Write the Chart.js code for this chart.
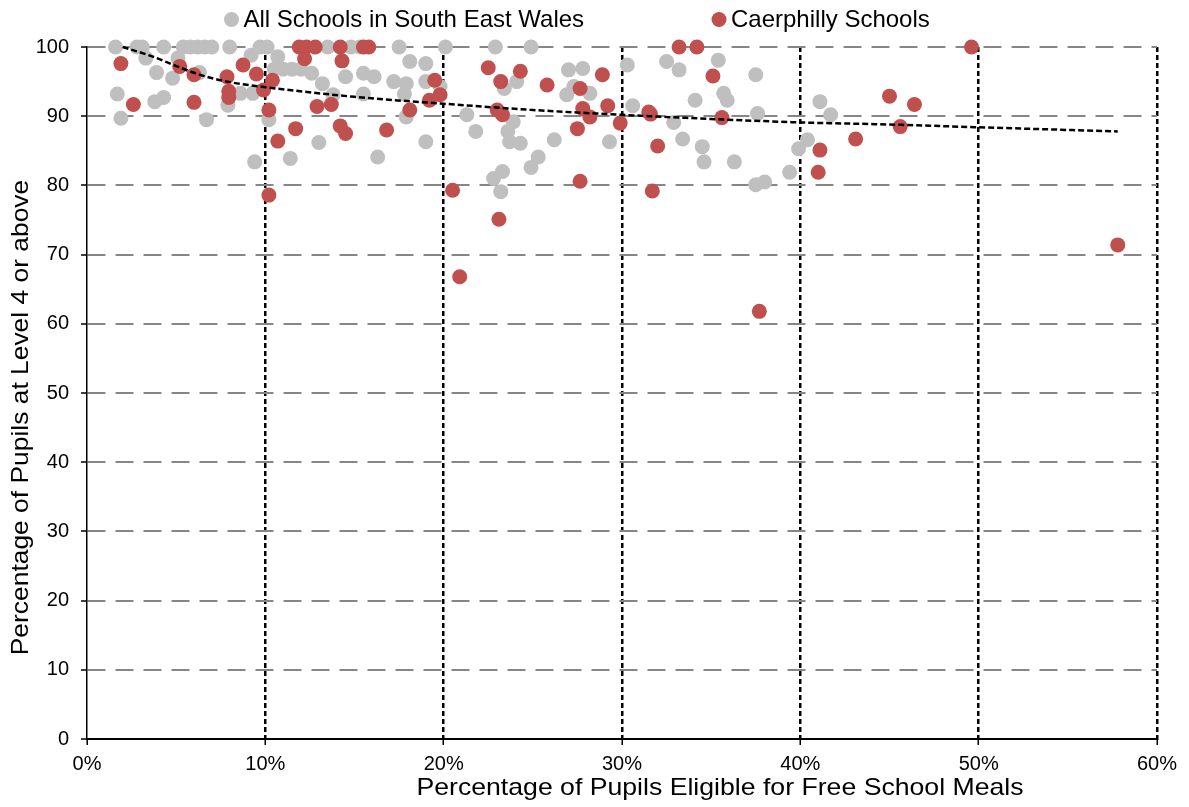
<!DOCTYPE html>
<html>
<head>
<meta charset="utf-8">
<script src="https://cdn.jsdelivr.net/npm/chart.js@4.4.1/dist/chart.umd.min.js"></script>
<style>
html,body{margin:0;padding:0;background:#fff;}
canvas{display:block;}
</style>
</head>
<body>
<canvas id="c" width="1189" height="807"></canvas>
<script>
// ---- Data ----
const xTickLabels = ["0%", "10%", "20%", "30%", "40%", "50%", "60%"];
const yTickValues = [0, 10, 20, 30, 40, 50, 60, 70, 80, 90, 100];

const seriesAllName = "All Schools in South East Wales";
const allX = [1.6, 2.8, 3.1, 3.3, 4.3, 3.9, 4.8, 5.1, 5.4, 5.8, 6.2, 6.6, 7.0, 6.3, 8.0, 9.2, 7.9, 8.6, 9.3, 9.7,
  10.1, 10.7, 10.2, 10.5, 11.0, 11.5, 12.0, 9.4, 11.4, 13.0, 12.6, 13.2, 13.8, 13.5, 14.5, 14.8, 15.3, 15.5, 15.5,
  1.7, 1.9, 3.8, 4.3, 6.7, 17.5, 20.1, 22.9, 24.9, 16.1, 18.1, 19.0, 17.2, 17.9, 19.0, 17.8, 17.9, 19.8, 21.3,
  21.8, 19.0, 16.3, 23.4, 24.1, 23.9, 23.6, 23.7, 24.3, 26.2, 25.3, 24.9, 23.3, 22.8, 23.2, 27.0, 27.8, 27.3,
  26.9, 28.2, 29.3, 30.3, 30.6, 32.5, 33.2, 35.4, 37.5, 34.1, 35.7, 35.9, 32.9, 37.6, 33.4, 34.5, 34.6, 36.3,
  37.5, 38.0, 39.4, 39.9, 40.4, 41.1, 41.7];
const allY = [100, 100, 100, 98.4, 100, 96.3, 95.5, 98.4, 100, 100, 100, 100, 100, 96.3, 100, 98.8, 91.6, 93.3, 93.3, 100,
  100, 98.6, 89.5, 96.8, 96.8, 96.8, 96.8, 83.4, 83.9, 86.2, 96.2, 94.7, 93.1, 100, 95.7, 100, 100, 96.2, 93.2,
  93.2, 89.7, 92.1, 92.7, 89.5, 100, 100, 100, 100, 95.7, 97.9, 97.6, 95.0, 94.7, 95.0, 93.2, 89.9, 94.3, 90.2,
  87.8, 86.3, 84.1, 94.0, 95.0, 89.2, 87.8, 86.3, 86.1, 86.6, 84.1, 82.6, 82.0, 81.0, 79.1, 96.7, 96.9, 94.3,
  93.1, 93.3, 86.3, 97.4, 91.5, 97.9, 96.7, 98.1, 96.0, 92.3, 93.3, 92.3, 89.1, 90.4, 86.7, 85.6, 83.4, 83.4,
  80.1, 80.5, 81.9, 85.3, 86.6, 92.1, 90.2];

const seriesCaeName = "Caerphilly Schools";
const caeX = [1.9, 2.6, 5.2, 6.0, 6.0, 7.85, 7.95, 7.95, 8.75, 9.5, 9.9, 10.4, 10.2, 10.7, 11.7, 10.2, 11.9, 12.3, 12.8,
  12.2, 12.9, 13.7, 14.2, 14.3, 14.2, 14.5, 15.5, 15.8, 19.5, 19.8, 19.2, 18.1, 16.8, 20.5, 22.5, 23.2, 24.3,
  23.0, 23.3, 25.8, 27.65, 27.8, 28.2, 27.5, 28.9, 29.2, 29.9, 27.65, 23.1, 33.2, 34.2, 35.1, 31.5, 31.6, 35.6,
  32.0, 31.7, 41.1, 41.0, 43.1, 45.0, 46.4, 45.6, 20.9, 37.7, 57.8, 49.6];
const caeY = [97.6, 91.7, 97.2, 96.0, 92.0, 95.7, 93.6, 92.7, 97.4, 96.1, 93.8, 95.2, 90.9, 86.4, 88.2, 78.6, 100, 100, 100,
  98.3, 91.4, 91.7, 100, 98.0, 88.6, 87.5, 100, 100, 95.2, 93.1, 92.3, 90.9, 88.0, 79.3, 97.0, 95.0, 96.5,
  90.9, 90.2, 94.5, 94.0, 91.1, 89.9, 88.2, 96.0, 91.5, 89.0, 80.6, 75.1, 100, 100, 95.8, 90.6, 90.3, 89.8,
  85.7, 79.2, 85.1, 81.9, 86.7, 92.9, 91.7, 88.5, 66.8, 61.8, 71.4, 100];

// trend line positions
const trendX = [2.0, 3.7, 5.05, 6.2, 7.85, 10, 15, 20, 25, 30, 35, 40, 45, 50, 57.8];
const trendY = [100, 98.6, 97.2, 96.1, 95.0, 94.2, 92.8, 91.8, 90.9, 90.2, 89.6, 89.1, 88.8, 88.4, 87.8];

const xTitle = "Percentage of Pupils Eligible for Free School Meals";
const yTitle = "Percentage of Pupils at Level 4 or above";

// ---- Build ----
const toPts = (xs, ys) => xs.map((x, i) => ({x: x, y: ys[i]}));
const FONT = "'Liberation Sans', Arial, sans-serif";
const GRAY = "#BFBFBF";
const RED = "#C0504D";

const textPlugin = {
  id: 'texts',
  afterDraw(chart) {
    const ctx = chart.ctx;
    ctx.save();
    ctx.fillStyle = '#000';
    // legend
    const items = [
      {label: seriesAllName, color: GRAY, cx: 231.5},
      {label: seriesCaeName, color: RED, cx: 719}
    ];
    ctx.font = "24px " + FONT;
    ctx.textBaseline = 'middle';
    ctx.textAlign = 'left';
    items.forEach(it => {
      ctx.beginPath();
      ctx.fillStyle = it.color;
      ctx.arc(it.cx, 19.5, 7.5, 0, Math.PI * 2);
      ctx.fill();
      ctx.fillStyle = '#000';
      ctx.fillText(it.label, it.cx + 12, 20);
    });
    // x title
    ctx.font = "24px " + FONT;
    ctx.textAlign = 'center';
    ctx.textBaseline = 'alphabetic';
    ctx.save();
    ctx.translate(720, 795);
    ctx.scale(1.11, 1);
    ctx.fillText(xTitle, 0, 0);
    ctx.restore();
    // y title
    ctx.save();
    ctx.translate(28, 417.5);
    ctx.rotate(-Math.PI / 2);
    ctx.scale(1.1, 1);
    ctx.fillText(yTitle, 0, 0);
    ctx.restore();
    ctx.restore();
  }
};

new Chart(document.getElementById('c'), {
  type: 'scatter',
  data: {
    datasets: [
      {
        type: 'line',
        label: 'Trend',
        data: toPts(trendX, trendY),
        borderColor: '#000',
        borderWidth: 2.5,
        borderDash: [6, 3],
        pointRadius: 0,
        fill: false,
        cubicInterpolationMode: 'monotone',
        clip: false
      },
      {
        label: seriesCaeName,
        data: toPts(caeX, caeY),
        backgroundColor: RED,
        borderWidth: 0,
        pointRadius: 7.5,
        clip: false
      },
      {
        label: seriesAllName,
        data: toPts(allX, allY),
        backgroundColor: GRAY,
        borderWidth: 0,
        pointRadius: 7.5,
        clip: false
      }
    ]
  },
  options: {
    responsive: false,
    animation: false,
    devicePixelRatio: 1,
    layout: {padding: {top: 47, right: 32, left: 0, bottom: 0}},
    plugins: {
      legend: {display: false},
      tooltip: {enabled: false}
    },
    scales: {
      x: {
        type: 'linear',
        min: 0, max: 60,
        afterFit: s => { s.height = 68; },
        afterBuildTicks: s => { s.ticks = xTickLabels.map((t, i) => ({value: i * 10})); },
        ticks: {
          callback: (v, i) => xTickLabels[i],
          color: '#000',
          font: {size: 20, family: FONT},
          padding: 7,
          maxRotation: 0
        },
        grid: {
          color: c => (c.tick && c.tick.value === 0) ? 'rgba(0,0,0,0)' : '#000',
          lineWidth: 2.5,
          tickColor: '#000',
          tickWidth: 1.5,
          tickLength: 6,
          tickBorderDash: []
        },
        border: {display: true, color: '#000', width: 2, dash: [5, 3]}
      },
      y: {
        type: 'linear',
        min: 0, max: 100,
        afterFit: s => { s.width = 87; },
        afterBuildTicks: s => { s.ticks = yTickValues.map(v => ({value: v})); },
        ticks: {
          color: '#000',
          font: {size: 20, family: FONT},
          padding: 12
        },
        grid: {
          color: c => (c.tick && c.tick.value === 0) ? 'rgba(0,0,0,0)' : '#868686',
          lineWidth: 2,
          tickColor: '#000',
          tickWidth: 1.5,
          tickLength: 6,
          tickBorderDash: []
        },
        border: {display: true, color: '#000', width: 1.5, dash: [18, 10]}
      }
    }
  },
  plugins: [textPlugin]
});
</script>
</body>
</html>
